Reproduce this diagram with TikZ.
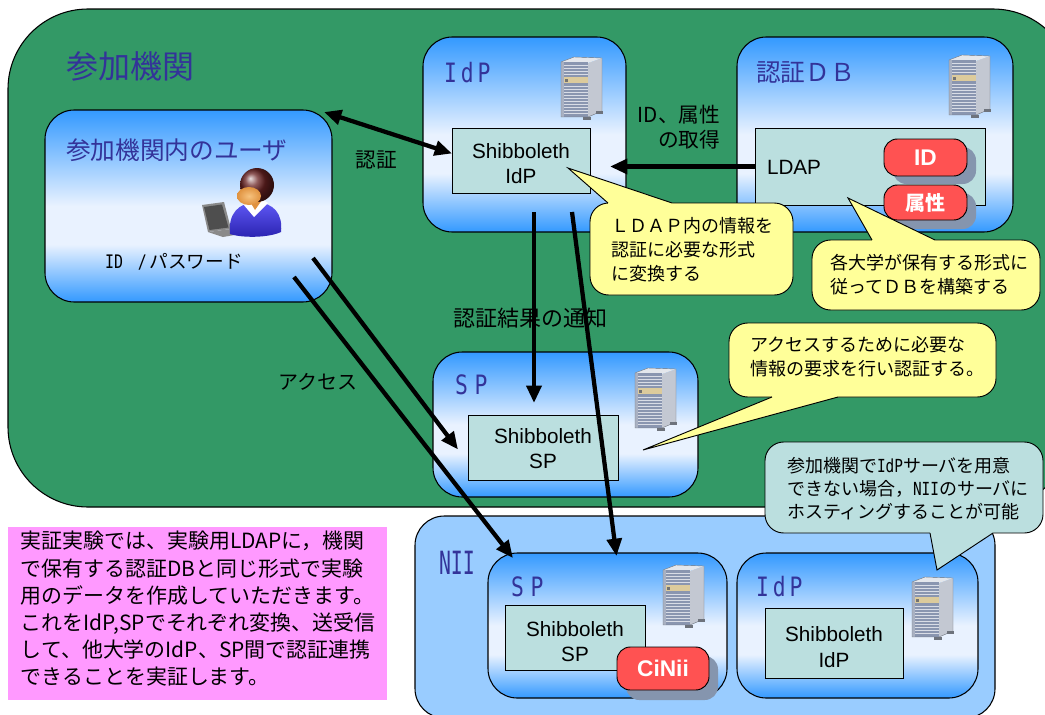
\documentclass[tikz,border=0pt]{standalone}
\usepackage{fontspec}
\setmainfont{Noto Sans CJK JP}
\newfontfamily\arialfont{Liberation Sans}
\newfontfamily\narrowfont[FakeStretch=0.8]{DejaVu Sans Mono}
\newfontfamily\tallfont[FakeStretch=0.62]{DejaVu Sans Mono}
\usetikzlibrary{arrows.meta,calc,fit}

\definecolor{orgGreen}{HTML}{339966}
\definecolor{titleBlue}{HTML}{333399}
\definecolor{deepBlue}{HTML}{3399FF}
\definecolor{paleBlue}{HTML}{E9F2FF}
\definecolor{tealFill}{HTML}{BBDFDF}
\definecolor{noteYellow}{HTML}{FFFF99}
\definecolor{niiBlue}{HTML}{99CCFF}
\definecolor{notePink}{HTML}{FF99FF}
\definecolor{tagRed}{HTML}{FF5252}
\definecolor{tagShadow}{HTML}{8595AE}
\definecolor{srvFront}{HTML}{8A96B0}
\definecolor{srvEdge}{HTML}{A9B1C2}
\definecolor{srvLine}{HTML}{D9DDE6}
\definecolor{srvSide}{HTML}{C3C8D2}
\definecolor{srvTop}{HTML}{E4E7EC}
\definecolor{srvBand}{HTML}{DCCB9C}
\definecolor{srvFoot}{HTML}{6E737C}
\definecolor{laptopGray}{HTML}{4E4E4E}
\definecolor{laptopEdge}{HTML}{8A8A8A}
\definecolor{shirtLight}{HTML}{5F58F5}
\definecolor{shirtDark}{HTML}{2A22B0}
\definecolor{hairBrown}{HTML}{6A2222}
\definecolor{skin}{HTML}{E0923F}
\definecolor{skinLight}{HTML}{F6C27E}

% blue band: saturated at the edges, pale a little below the middle
\pgfdeclareverticalshading{bluefade}{100bp}{%
  color(0bp)=(deepBlue); color(25bp)=(deepBlue); color(40bp)=(paleBlue);
  color(50bp)=(paleBlue); color(75bp)=(deepBlue); color(100bp)=(deepBlue)}

\newcommand{\fsz}[2]{\fontsize{#1}{#2}\selectfont}

\tikzset{
  every node/.style={inner sep=0pt, outer sep=0pt},
  orgbox/.style={draw=black, line width=0.8pt, fill=orgGreen, rounded corners=60pt},
  gradbox/.style={draw=black, line width=0.8pt, shade, shading=bluefade, rounded corners=22pt},
  niibox/.style={draw=black, line width=0.8pt, fill=niiBlue, rounded corners=22pt},
  swbox/.style={draw=black, line width=0.7pt, fill=tealFill},
  swtext/.style={align=center, font=\arialfont\fsz{15.5}{19}},
  tagbox/.style={draw=black, line width=0.7pt, fill=tagRed, rounded corners=10pt},
  tagtext/.style={text=white},
  tagshade/.style={fill=tagShadow, rounded corners=10pt},
  boxtitle/.style={anchor=west, text=titleBlue},
  lbl/.style={font=\fsz{15.5}{19}},
  bubblebody/.style={draw=black, line width=0.7pt, rounded corners=14pt},
  bubbleedge/.style={draw=black, line width=0.7pt},
  bubbletext/.style={anchor=west, align=left, font=\fsz{13.5}{18}},
  conn/.style={line width=3.2pt},
  arrowend/.style={->, >={Triangle[length=13pt,width=11pt]}},
  arrowboth/.style={<->, >={Triangle[length=13pt,width=11pt]}},
  server/.pic={
    \fill[srvSide] (27,6) -- (41,1) -- (41,54) -- (27,60) -- cycle;
    \fill[srvTop] (0,5) -- (13,0) -- (41,1) -- (27,6) -- cycle;
    \fill[srvFront] (0,5) rectangle (27,60);
    \fill[srvEdge] (0,5) rectangle (3,60);
    \foreach \yy in {8,11,14,17} {\draw[srvLine, line width=0.5pt] (3,\yy) -- (27,\yy);}
    \fill[srvBand] (3,20) rectangle (27,26);
    \fill[black!55] (4,21.5) rectangle (6.5,24.5);
    \foreach \yy in {29,32,...,57} {\draw[srvLine, line width=0.5pt] (3,\yy) -- (27,\yy);}
    \fill[srvFoot] (22,60) rectangle (30,63);
    \fill[srvFoot] (35,54) rectangle (42,57);
    \draw[srvFoot, line width=0.3pt] (0,5) -- (13,0) -- (41,1) -- (41,54) -- (27,60) -- (0,60) -- cycle;
  },
}

\begin{document}
\begin{tikzpicture}[x=0.75pt, y=-0.75pt]
\useasboundingbox (0,0) rectangle (1045,714);
\clip (0,0) rectangle (1045,714);
\fill[white] (0,0) rectangle (1045,714);

% participating institution
\node[orgbox, fit={(8,9) (1073,507)}] (inst) {};

% servers inside the institution
\node[gradbox, fit={(45,110) (332,302)}] (user) {};
\node[gradbox, fit={(423,37) (626,232)}] (idp) {};
\node[gradbox, fit={(737,37) (1013,232)}] (db) {};
\node[gradbox, fit={(433,352) (698,497)}] (sp) {};

% NII hosting area
\node[niibox, fit={(415,516) (995,718)}] (nii) {};
\node[gradbox, fit={(488,553) (727,698)}] (niisp) {};
\node[gradbox, fit={(737,553) (978,698)}] (niiidp) {};

% software boxes
\node[swbox, fit={(452,128) (590,193)}] (shibidp) {};
\node[swtext] (shibidpText) at ($(shibidp.center)+(0,3)$) {Shibboleth\\IdP};
\node[swbox, fit={(755,128) (985,205)}] (ldap) {};
\node[anchor=west, font=\arialfont\fsz{15.5}{19}] (ldapText) at (767,167) {LDAP};
\node[swbox, fit={(468,415) (618,480)}] (shibsp) {};
\node[swtext] (shibspText) at ($(shibsp.center)+(0,1)$) {Shibboleth\\SP};
\node[swbox, fit={(505,605) (645,670)}] (niishibsp) {};
\node[swtext] (niishibspText) at ($(niishibsp.center)+(0,4)$) {Shibboleth\\SP};
\node[swbox, fit={(765,608) (903,678)}] (niishibidp) {};
\node[swtext] (niishibidpText) at ($(niishibidp.center)+(0,4)$) {Shibboleth\\IdP};

% data tags with drop shadows
\fill[tagshade] (893,147) rectangle (976,184);
\node[tagbox, fit={(884,139) (967,176)}] (idTag) {};
\node[tagtext, font=\arialfont\bfseries\fsz{17}{17}] (idTagText) at (idTag.center) {ID};
\fill[tagshade] (893,193) rectangle (976,229);
\node[tagbox, fit={(884,185) (967,220)}] (attrTag) {};
\node[tagtext, font=\bfseries\fsz{15}{15}] (attrTagText) at (attrTag.center) {属性};
\fill[tagshade] (626,656) rectangle (718,700);
\node[tagbox, fit={(617,647) (709,690)}] (ciniiTag) {};
\node[tagtext, font=\arialfont\bfseries\fsz{17}{17}] (ciniiTagText) at (ciniiTag.center) {CiNii};

% server towers
\pic at (561,57) {server};
\pic at (949,55) {server};
\pic at (635,368) {server};
\pic at (663,565) {server};
\pic at (912,577) {server};

% user at a laptop
\fill[laptopEdge] (202,205) -- (224,202) -- (231,229) -- (208,232) -- cycle;
\fill[laptopGray] (204,207) -- (222,204.5) -- (228.5,227.5) -- (209.5,230) -- cycle;
\fill[laptopEdge] (208,232) -- (231,229) -- (246,233) -- (223,237) -- cycle;
\shade[top color=shirtLight, bottom color=shirtDark] (230,234) .. controls (228,214) and (238,203) .. (256,202) .. controls (274,203) and (283,214) .. (281,232) .. controls (268,238) and (242,238) .. (230,234) -- cycle;
\fill[white] (243,204) -- (254,217) -- (268,203) -- (262,199) -- (249,199) -- cycle;
\fill[skin] (249,200) -- (255,210) -- (262,200) -- cycle;
\shade[ball color=hairBrown] (257,185) circle (17);
\shade[inner color=skinLight, outer color=skin] (249,196) ellipse (12 and 9);

% box titles
\node[boxtitle, font=\fsz{24}{24}] (instTitle) at (66,66) {参加機関};
\node[boxtitle, font=\fsz{18.5}{18.5}] (userTitle) at (66,150) {参加機関内のユーザ};
\node[font=\fsz{14}{14}] (userCred) at (174,262) {{\narrowfont ID}\hspace{11pt}{\narrowfont /}\hspace{2pt}パスワード};
\node[boxtitle, font=\narrowfont\fsz{20}{20}] (idpTitle) at (444,73) {I\hspace{3pt}d\hspace{3pt}P};
\node[boxtitle, font=\fsz{18.5}{18.5}] (dbTitle) at (756,73) {認証ＤＢ};
\node[boxtitle, font=\narrowfont\fsz{20}{20}] (spTitle) at (455,385) {S\hspace{5pt}P};
\node[boxtitle, font=\tallfont\fsz{24}{24}] (niiTitle) at (439,563) {NII};
\node[boxtitle, font=\narrowfont\fsz{20}{20}] (niiSpTitle) at (511,587) {S\hspace{5pt}P};
\node[boxtitle, font=\narrowfont\fsz{20}{20}] (niiIdpTitle) at (756,587) {I\hspace{3pt}d\hspace{3pt}P};

% note about the trial
\node[fill=notePink, fit={(8,527) (387,700)}] (pinkNote) {};
\node[anchor=west, align=left, font=\fsz{15.7}{20.4}] (pinkText) at (21,609)
  {実証実験では、実験用LDAPに，機関\\で保有する認証DBと同じ形式で実験\\用のデータを作成していただきます。\\これをIdP,SPでそれぞれ変換、送受信\\して、他大学のIdP、SP間で認証連携\\できることを実証します。};

% connectors
\draw[conn, arrowboth] ($(user.north east)+(-8,2)$) -- ($(shibidp.west)+(0,-7)$);
\draw[conn, arrowend] (ldap.west) -- ($(ldap.west -| idp.east)+(-16,0)$);
\draw[conn, arrowend] ($(shibidp.south)+(13,19)$) -- ($(shibsp.north)+(-9,-12)$);
\draw[conn, arrowend] ($(shibidp.south)+(51,19)$) -- ($(niisp.north)+(9,3)$);
\draw[conn, arrowend] ($(user.south east)+(-19,-44)$) -- ($(shibsp.west)+(-10,2)$);
\draw[conn, arrowend] ($(user.south east)+(-38,-25)$) -- ($(niisp.north west)+(25,5)$);

% connector labels
\node[lbl] (authLbl) at (376,160) {認証};
\node[lbl, anchor=east, align=right] (fetchLbl) at (720,127) {ID、属性\\の取得};
\node[lbl, font=\fsz{16.5}{20}] (resultLbl) at (530,318) {認証結果の通知};
\node[lbl, font=\fsz{15}{20}] (accessLbl) at (318,382) {アクセス};

% callout: conversion in the IdP
\draw[bubblebody, fill=noteYellow] (590,203) rectangle (793,295);
\fill[noteYellow] (568,168) -- (608,203) -- (608,207) -- (672,207) -- (672,203) -- cycle;
\draw[bubbleedge] (608,203) -- (568,168) -- (672,203);
\node[bubbletext] (convText) at (611,250) {ＬＤＡＰ内の情報を\\認証に必要な形式\\に変換する};

% callout: directory of each university
\draw[bubblebody, fill=noteYellow] (812,240) rectangle (1040,310);
\fill[noteYellow] (848,198) -- (872,240) -- (872,244) -- (935,244) -- (935,240) -- cycle;
\draw[bubbleedge] (872,240) -- (848,198) -- (935,240);
\node[bubbletext] (dbText) at (830,275) {各大学が保有する形式に\\従ってＤＢを構築する};

% callout: SP request
\draw[bubblebody, fill=noteYellow] (729,323) rectangle (996,397);
\fill[noteYellow] (643,450) -- (772,397) -- (772,393) -- (838,393) -- (838,397) -- cycle;
\draw[bubbleedge] (772,397) -- (643,450) -- (838,397);
\node[bubbletext] (spText) at (750,357) {アクセスするために必要な\\情報の要求を行い認証する。};

% callout: hosting at NII
\draw[bubblebody, fill=tealFill] (765,442) rectangle (1043,533);
\fill[tealFill] (937,570) -- (930,533) -- (930,529) -- (993,529) -- (993,533) -- cycle;
\draw[bubbleedge] (930,533) -- (937,570) -- (993,533);
\node[bubbletext, font=\fsz{13.5}{17.3}] (hostText) at (787,489) {参加機関で{\narrowfont IdP}サーバを用意\\できない場合，{\narrowfont NII}のサーバに\\ホスティングすることが可能};
\end{tikzpicture}
\end{document}
